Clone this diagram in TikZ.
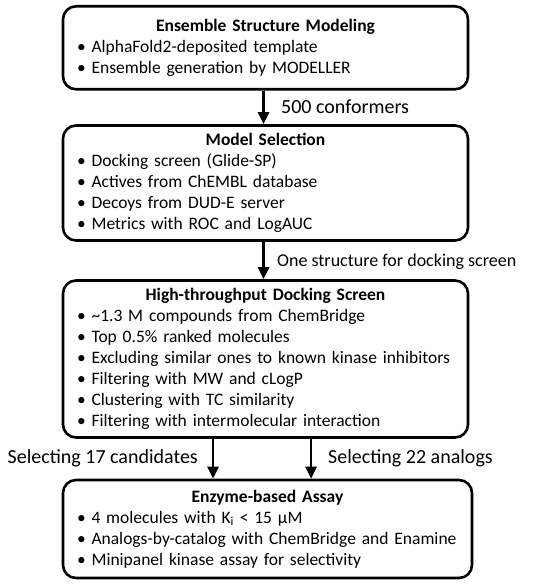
\documentclass[tikz,border=0pt]{standalone}
\usepackage{fontspec}
\setmainfont{Carlito}
\usetikzlibrary{arrows.meta}
\begin{document}
\begin{tikzpicture}[x=1pt,y=-1pt,
  box/.style={draw, line width=2.6pt, rounded corners=13pt, inner xsep=14pt, inner ysep=0pt,
    text width=#1, align=left, font=\fontsize{17.5}{21}\selectfont},
  box/.default=377pt,
  arr/.style={line width=2.6pt, -{Triangle[width=11pt,length=12pt]}},
  lbl/.style={anchor=west, inner sep=0pt, font=\fontsize{20}{22}\selectfont}]
\useasboundingbox (0,0) rectangle (550,585);
\newcommand{\ttl}[1]{\makebox[\linewidth][c]{\bfseries #1}}
\node[box, minimum width=405pt, minimum height=83pt] (b1) at (265.5,47.8) {\ttl{Ensemble Structure Modeling}\\
• AlphaFold2-deposited template\\
• Ensemble generation by MODELLER};
\node[box, minimum width=405pt, minimum height=115pt] (b2) at (265.5,183) {\ttl{Model Selection}\\
• Docking screen (Glide-SP)\\
• Actives from ChEMBL database\\
• Decoys from DUD-E server\\
• Metrics with ROC and LogAUC};
\node[box, minimum width=405pt, minimum height=157pt] (b3) at (265.5,359) {\ttl{High-throughput Docking Screen}\\
• \textasciitilde1.3 M compounds from ChemBridge\\
• Top 0.5\% ranked molecules\\
• Excluding similar ones to known kinase inhibitors\\
• Filtering with MW and cLogP\\
• Clustering with TC similarity\\
• Filtering with intermolecular interaction};
\node[box=381pt, minimum width=409pt, minimum height=98pt] (b4) at (267.5,529) {\ttl{Enzyme-based Assay}\\
• 4 molecules with K\textsubscript{i} < 15 µM\\
• Analogs-by-catalog with ChemBridge and Enamine\\
• Minipanel kinase assay for selectivity};
\coordinate (xa) at (263.5,0);
\coordinate (xl) at (213,0);
\coordinate (xr) at (311,0);
\draw[arr] (b1.south -| xa) -- (b2.north -| xa);
\draw[arr] (b2.south -| xa) -- (b3.north -| xa);
\draw[arr] (b3.south -| xl) -- (b4.north -| xl);
\draw[arr] (b3.south -| xr) -- (b4.north -| xr);
\node[lbl] (l1) at (281,107) {500 conformers};
\node[lbl, font=\fontsize{18}{20}\selectfont] (l2) at (277,262) {One structure for docking screen};
\node[lbl, anchor=east] (l3) at (198,458) {Selecting 17 candidates};
\node[lbl] (l4) at (328,458) {Selecting 22 analogs};
\end{tikzpicture}
\end{document}
